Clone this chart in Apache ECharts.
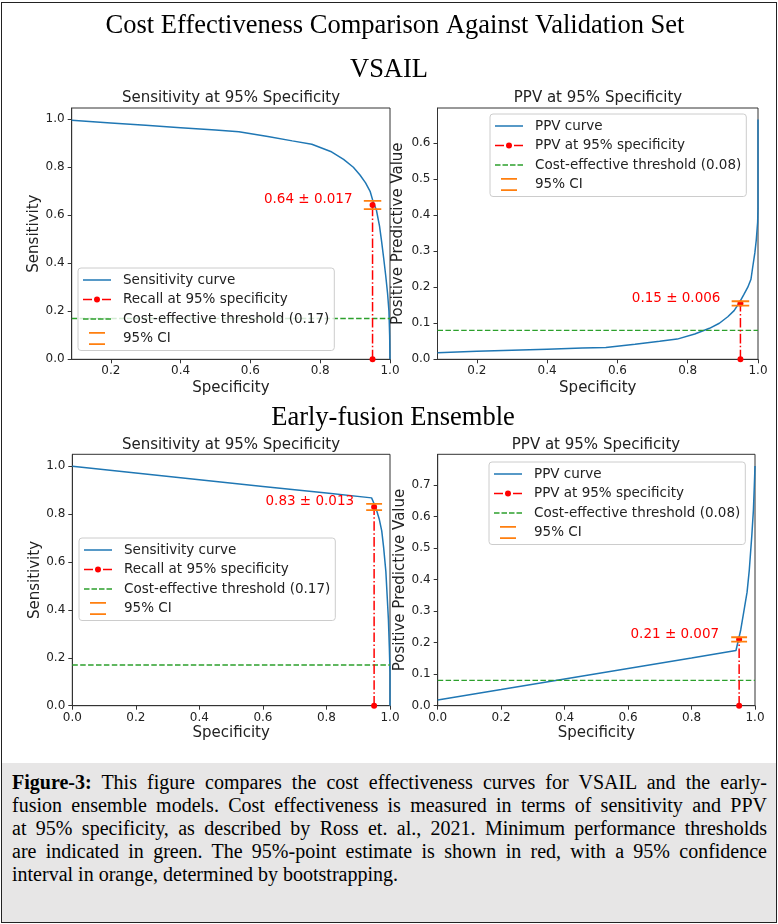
<!DOCTYPE html>
<html>
<head>
<meta charset="utf-8">
<title>Cost Effectiveness Comparison Against Validation Set</title>
<script src="https://cdn.jsdelivr.net/npm/echarts@6.0.0/dist/echarts.min.js"></script>
<style>
  html, body { margin: 0; padding: 0; background: #fff; }
  #wrap { position: relative; width: 778px; height: 924px; overflow: hidden; }
  #chart { position: absolute; left: 0; top: 0; width: 778px; height: 924px; }
  #caption {
    position: absolute; left: 2px; top: 763px; width: 774px; height: 159px;
    box-sizing: border-box; padding: 8px 9px 0 10px;
    background: #e7e6e6; color: #000;
    font-family: "Liberation Serif", serif; font-size: 20px; line-height: 23px;
  }
  #caption .ln { white-space: nowrap; text-align: justify; text-align-last: justify; }
  #caption .ln.last { text-align-last: left; }
  #frame {
    position: absolute; left: 1px; top: 2px; width: 776px; height: 921px;
    box-sizing: border-box; border: 1px solid #222; pointer-events: none;
  }
</style>
</head>
<body>
<div id="wrap">
  <div id="chart"></div>
  <div id="caption">
    <div class="ln"><b>Figure-3:</b> This figure compares the cost effectiveness curves for VSAIL and the early-</div>
    <div class="ln">fusion ensemble models. Cost effectiveness is measured in terms of sensitivity and PPV</div>
    <div class="ln">at 95% specificity, as described by Ross et. al., 2021. Minimum performance thresholds</div>
    <div class="ln">are indicated in green. The 95%-point estimate is shown in red, with a 95% confidence</div>
    <div class="ln last">interval in orange, determined by bootstrapping.</div>
  </div>
  <div id="frame"></div>
</div>
<script>
// VSAIL - sensitivity against specificity
const vsailSensSpec = [0.088, 0.2, 0.3, 0.4, 0.5, 0.567, 0.65, 0.72, 0.776, 0.83, 0.867, 0.895, 0.914, 0.93, 0.943, 0.952, 0.961, 0.97, 0.976, 0.982, 0.988, 0.993, 0.997, 0.999, 1.0];
const vsailSens = [0.996, 0.985, 0.975, 0.965, 0.955, 0.948, 0.928, 0.91, 0.896, 0.866, 0.833, 0.8, 0.768, 0.735, 0.7, 0.655, 0.622, 0.555, 0.49, 0.42, 0.345, 0.275, 0.2, 0.1, 0.0];

// VSAIL - PPV against specificity
const vsailPpvSpec = [0.088, 0.2, 0.3, 0.4, 0.5, 0.567, 0.65, 0.72, 0.77, 0.82, 0.862, 0.89, 0.914, 0.932, 0.947, 0.96, 0.971, 0.98, 0.985, 0.991, 0.995, 0.999, 1.0, 1.0];
const vsailPpv = [0.018, 0.022, 0.025, 0.028, 0.031, 0.033, 0.042, 0.05, 0.056, 0.07, 0.086, 0.1, 0.118, 0.135, 0.157, 0.18, 0.2, 0.222, 0.256, 0.295, 0.33, 0.38, 0.42, 0.665];

// Early-fusion ensemble - sensitivity against specificity
const efSensSpec = [0.0, 0.2, 0.4, 0.6, 0.8, 0.942, 0.948, 0.953, 0.958, 0.966, 0.974, 0.98, 0.987, 0.991, 0.995, 0.998, 1.0, 1.0];
const efSens = [1.0, 0.972, 0.944, 0.916, 0.888, 0.868, 0.85, 0.832, 0.815, 0.78, 0.73, 0.66, 0.56, 0.46, 0.36, 0.24, 0.14, 0.0];

// Early-fusion ensemble - PPV against specificity
const efPpvSpec = [0.0, 0.2, 0.4, 0.6, 0.8, 0.94, 0.947, 0.955, 0.965, 0.975, 0.982, 0.99, 0.995, 0.998, 1.0];
const efPpv = [0.018, 0.051, 0.085, 0.118, 0.151, 0.175, 0.205, 0.24, 0.3, 0.36, 0.43, 0.54, 0.62, 0.7, 0.76];

// operating point at 95% specificity, order: VSAIL sens, VSAIL ppv, EF sens, EF ppv
const opSpec = 0.95;
const opValues = [0.643, 0.155, 0.83, 0.21];
const opErrors = [0.017, 0.006, 0.013, 0.007];
const opLabels = ["0.64 ± 0.017", "0.15 ± 0.006", "0.83 ± 0.013", "0.21 ± 0.007"];
const ciHalfWidth = 0.025;
const thresholds = [0.17, 0.08, 0.17, 0.08];

// ticks
const xTicksTop = [0.2, 0.4, 0.6, 0.8, 1.0];
const xTicksBottom = [0.0, 0.2, 0.4, 0.6, 0.8, 1.0];
const yTicksSens = [0.0, 0.2, 0.4, 0.6, 0.8, 1.0];
const yTicksPpvTop = [0.0, 0.1, 0.2, 0.3, 0.4, 0.5, 0.6];
const yTicksPpvBottom = [0.0, 0.1, 0.2, 0.3, 0.4, 0.5, 0.6, 0.7];

const FONT = "DejaVu Sans";
const SERIF = "Liberation Serif";
const BLUE = "#1f77b4";
const RED = "#ff0000";
const GREEN = "#2ca02c";
const ORANGE = "#ff7f0e";
const INK = "#222";

// legend handles, drawn in a 28x14 box
const ICON_SOLID = "path://M0,0M28,14M0,6.25H28V7.75H0Z";
const ICON_DASHDOT = "path://M0,0M28,14M0,6.25H9V7.75H0Z M19,6.25H28V7.75H19Z M17,7A3,3 0 1,1 11,7A3,3 0 1,1 17,7Z";
const ICON_DASHED = "path://M0,0M28,14M0,6.25H5.5V7.75H0Z M7.5,6.25H13V7.75H7.5Z M15,6.25H20.5V7.75H15Z M22.5,6.25H28V7.75H22.5Z";
const ICON_CI = "path://M0,0M28,14M6,0.5H22V2.2H6Z M6,11.8H22V13.5H6Z";

const panels = [
  {
    spec: vsailSensSpec, val: vsailSens, title: "Sensitivity at 95% Specificity", yName: "Sensitivity",
    curve: "Sensitivity curve", point: "Recall at 95% specificity", thrName: "Cost-effective threshold (0.17)",
    xMin: 0.088, yMax: 1.047, xTicks: xTicksTop, yTicks: yTicksSens,
    grid: { left: 71.7, top: 108, width: 318.3, height: 251.3 },
    titlePos: [231, 98], legendPos: [78, 268], yGap: 29, xGap: 21
  },
  {
    spec: vsailPpvSpec, val: vsailPpv, title: "PPV at 95% Specificity", yName: "Positive Predictive Value",
    curve: "PPV curve", point: "PPV at 95% specificity", thrName: "Cost-effective threshold (0.08)",
    xMin: 0.088, yMax: 0.697, xTicks: xTicksTop, yTicks: yTicksPpvTop,
    grid: { left: 437.5, top: 108, width: 320.5, height: 251.3 },
    titlePos: [598, 98], legendPos: [490, 114], yGap: 32, xGap: 21
  },
  {
    spec: efSensSpec, val: efSens, title: "Sensitivity at 95% Specificity", yName: "Sensitivity",
    curve: "Sensitivity curve", point: "Recall at 95% specificity", thrName: "Cost-effective threshold (0.17)",
    xMin: 0, yMax: 1.05, xTicks: xTicksBottom, yTicks: yTicksSens,
    grid: { left: 72.3, top: 454.3, width: 317.7, height: 251.4 },
    titlePos: [231, 445], legendPos: [79, 538], yGap: 28, xGap: 20
  },
  {
    spec: efPpvSpec, val: efPpv, title: "PPV at 95% Specificity", yName: "Positive Predictive Value",
    curve: "PPV curve", point: "PPV at 95% specificity", thrName: "Cost-effective threshold (0.08)",
    xMin: 0, yMax: 0.797, xTicks: xTicksBottom, yTicks: yTicksPpvBottom,
    grid: { left: 437.7, top: 454.3, width: 317.3, height: 251.4 },
    titlePos: [596, 445], legendPos: [489, 462], yGap: 30, xGap: 20
  }
];

function zip(xs, ys) {
  return xs.map((x, i) => [x, ys[i]]);
}

const grid = [], xAxis = [], yAxis = [], series = [], legend = [];
const title = [
  { text: "Cost Effectiveness Comparison Against Validation Set", left: 395, top: 26 },
  { text: "VSAIL", left: 389, top: 70 },
  { text: "Early-fusion Ensemble", left: 393, top: 418 }
].map(t => Object.assign(t, {
  textAlign: "center", textVerticalAlign: "middle", padding: 0,
  textStyle: { fontFamily: SERIF, fontSize: 26.5, fontWeight: "normal", color: "#000" }
}));

panels.forEach((p, i) => {
  grid.push(Object.assign({
    show: true, borderColor: "#333", borderWidth: 1, backgroundColor: "transparent",
    containLabel: false, outerBoundsMode: "none"
  }, p.grid));

  title.push({
    text: p.title, left: p.titlePos[0], top: p.titlePos[1],
    textAlign: "center", textVerticalAlign: "middle", padding: 0,
    textStyle: { fontFamily: FONT, fontSize: 15, fontWeight: "normal", color: INK }
  });

  xAxis.push({
    type: "value", gridIndex: i, min: p.xMin, max: 1.0,
    name: "Specificity", nameLocation: "middle", nameGap: p.xGap,
    nameTextStyle: { fontFamily: FONT, fontSize: 15, color: INK },
    axisLine: { show: true, onZero: false, lineStyle: { color: "#333", width: 1 } },
    axisTick: { show: true, length: 4, customValues: p.xTicks, lineStyle: { color: "#333" } },
    axisLabel: {
      customValues: p.xTicks, formatter: v => v.toFixed(1), margin: 6,
      fontFamily: FONT, fontSize: 12, color: INK
    },
    splitLine: { show: false }
  });

  yAxis.push({
    type: "value", gridIndex: i, min: 0, max: p.yMax,
    name: p.yName, nameLocation: "middle", nameGap: p.yGap, nameRotate: 90,
    nameTextStyle: { fontFamily: FONT, fontSize: 15, color: INK },
    axisLine: { show: true, onZero: false, lineStyle: { color: "#333", width: 1 } },
    axisTick: { show: true, length: 4, customValues: p.yTicks, lineStyle: { color: "#333" } },
    axisLabel: {
      customValues: p.yTicks, formatter: v => v.toFixed(1), margin: 7,
      fontFamily: FONT, fontSize: 12, color: INK
    },
    splitLine: { show: false }
  });

  const common = { type: "line", xAxisIndex: i, yAxisIndex: i, silent: true, animation: false };

  series.push(Object.assign({
    name: p.curve, data: zip(p.spec, p.val), symbol: "none", z: 2,
    lineStyle: { color: BLUE, width: 1.5 }, itemStyle: { color: BLUE }
  }, common));

  series.push(Object.assign({
    name: p.point, symbol: "circle", symbolSize: 6, z: 3,
    data: [
      [opSpec, 0],
      {
        value: [opSpec, opValues[i]],
        label: {
          show: true, formatter: opLabels[i], position: "left", distance: 17, offset: [0, -5],
          color: RED, fontFamily: FONT, fontSize: 13.5
        }
      }
    ],
    lineStyle: { color: RED, width: 1.5, type: [9.6, 2.4, 1.5, 2.4] }, itemStyle: { color: RED }
  }, common));

  series.push(Object.assign({
    name: p.thrName, symbol: "none", z: 2,
    data: [[p.xMin, thresholds[i]], [1.0, thresholds[i]]],
    lineStyle: { color: GREEN, width: 1.3, type: [5.5, 2.4] }, itemStyle: { color: GREEN }
  }, common));

  [opValues[i] - opErrors[i], opValues[i] + opErrors[i]].forEach(v => {
    series.push(Object.assign({
      name: "95% CI", symbol: "none", z: 4,
      data: [[opSpec - ciHalfWidth, v], [opSpec + ciHalfWidth, v]],
      lineStyle: { color: ORANGE, width: 1.8 }, itemStyle: { color: ORANGE }
    }, common));
  });

  legend.push({
    left: p.legendPos[0], top: p.legendPos[1], orient: "vertical",
    itemWidth: 28, itemHeight: 14, itemGap: 5.5, padding: 5,
    backgroundColor: "rgba(255,255,255,0.8)", borderColor: "#cccccc", borderWidth: 1, borderRadius: 3,
    selectedMode: false,
    textStyle: { fontFamily: FONT, fontSize: 13.5, color: INK, padding: [0, 0, 0, 7] },
    itemStyle: { borderWidth: 0 },
    data: [
      { name: p.curve, icon: ICON_SOLID, itemStyle: { color: BLUE } },
      { name: p.point, icon: ICON_DASHDOT, itemStyle: { color: RED } },
      { name: p.thrName, icon: ICON_DASHED, itemStyle: { color: GREEN } },
      { name: "95% CI", icon: ICON_CI, itemStyle: { color: ORANGE } }
    ]
  });
});

const chart = echarts.init(document.getElementById("chart"), null, { renderer: "canvas" });
chart.setOption({
  animation: false,
  backgroundColor: "transparent",
  title: title,
  grid: grid,
  xAxis: xAxis,
  yAxis: yAxis,
  legend: legend,
  series: series
});
</script>
</body>
</html>
